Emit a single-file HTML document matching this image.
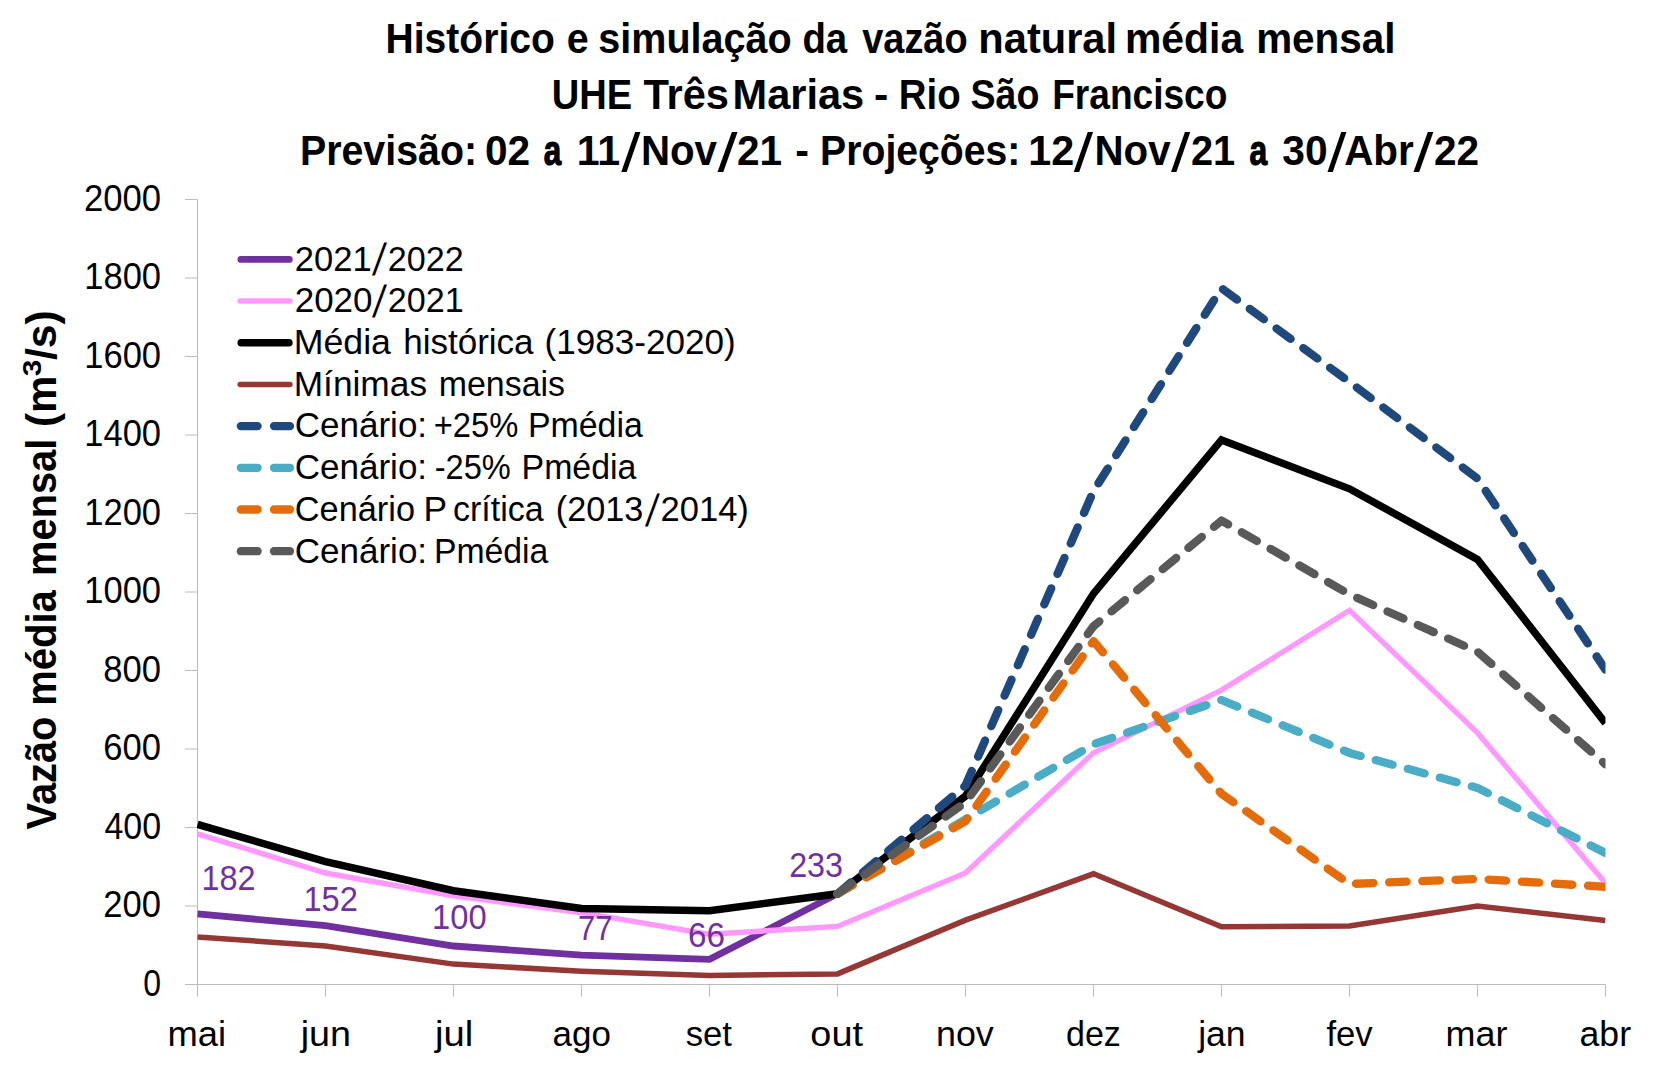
<!DOCTYPE html>
<html lang="pt-BR"><head><meta charset="utf-8"><title>Histórico e simulação da vazão natural média mensal - UHE Três Marias</title>
<style>
html,body{margin:0;padding:0;background:#fff;}
body{width:1658px;height:1080px;overflow:hidden;}
svg{display:block;}
text{font-family:"Liberation Sans",sans-serif;fill:#000;white-space:pre;}
.t{font-weight:bold;font-size:42.7px;}
.ta{stroke:#000;stroke-width:1.2px;stroke-linejoin:round;}
.at{font-weight:bold;font-size:43.0px;}
.sup{font-weight:bold;font-size:25.5px;}
.yl{font-size:37.6px;}
.r{font-size:35.5px;}
.dl{font-size:35.5px;fill:#7030A0;}
.ax{stroke:#bcbcbc;stroke-width:1;fill:none;}
.s{fill:none;stroke-linejoin:miter;stroke-miterlimit:10;}
.d{fill:none;stroke-linecap:round;stroke-linejoin:round;stroke-width:8.3;stroke-dasharray:17.5 15.7;}
</style></head><body>
<svg width="1658" height="1080" viewBox="0 0 1658 1080">
<rect width="1658" height="1080" fill="#fff"/>
<defs><clipPath id="pc"><rect x="196.9" y="150" width="1408.6" height="900"/></clipPath></defs>
<path class="ax" d="M197.5 199.5V984.5H1605.5M185.0 984.5H197.5M185.0 906.0H197.5M185.0 827.5H197.5M185.0 749.0H197.5M185.0 670.5H197.5M185.0 592.0H197.5M185.0 513.5H197.5M185.0 435.0H197.5M185.0 356.5H197.5M185.0 278.0H197.5M185.0 199.5H197.5M197.5 984.5V996.5M325.5 984.5V996.5M453.5 984.5V996.5M581.5 984.5V996.5M709.5 984.5V996.5M837.5 984.5V996.5M965.5 984.5V996.5M1093.5 984.5V996.5M1221.5 984.5V996.5M1349.5 984.5V996.5M1477.5 984.5V996.5M1605.5 984.5V996.5"/>
<g clip-path="url(#pc)">
<path class="s" d="M197.5 913.9L325.5 925.6L453.5 946.0L581.5 955.1L709.5 959.4L837.5 893.8" stroke="#7030A0" stroke-width="6.8"/>
<path class="s" d="M197.5 833.8L325.5 873.0L453.5 895.8L581.5 912.7L709.5 934.3L837.5 926.4L965.5 873.0L1093.5 752.9L1221.5 690.1L1349.5 610.3L1477.5 732.9L1605.5 883.2" stroke="#FF99FF" stroke-width="5.4"/>
<path class="s" d="M197.5 824.4L325.5 861.7L453.5 890.7L581.5 908.4L709.5 910.7L837.5 893.8L965.5 796.1L1093.5 593.6L1221.5 439.9L1349.5 488.8L1477.5 559.4L1605.5 723.1" stroke="#000000" stroke-width="7.5"/>
<path class="s" d="M197.5 937.0L325.5 946.0L453.5 964.1L581.5 971.2L709.5 975.5L837.5 973.9L965.5 920.1L1093.5 873.8L1221.5 926.8L1349.5 926.0L1477.5 906.0L1605.5 920.5" stroke="#953735" stroke-width="5.5"/>
<path class="d" d="M837.5 893.8L965.5 785.5L1093.5 491.1L1221.5 288.2L1349.5 382.0L1477.5 478.6L1605.5 669.7" stroke="#1F497D"/>
<path class="d" d="M837.5 893.8L965.5 819.3L1093.5 744.3L1221.5 700.0L1349.5 752.9L1477.5 787.9L1605.5 853.0" stroke="#4BACC6"/>
<path class="d" d="M837.5 893.8L965.5 821.2L1093.5 641.1L1221.5 793.8L1349.5 884.0L1477.5 878.9L1605.5 886.8" stroke="#E46C0A"/>
<path class="d" d="M837.5 893.8L965.5 802.4L1093.5 626.2L1221.5 520.6L1349.5 594.4L1477.5 651.7L1605.5 764.3" stroke="#595959"/>
</g>
<path d="M240.9 259.4H289.3" stroke="#7030A0" stroke-width="6.8" stroke-linecap="round" fill="none"/>
<path d="M240.2 301.0H290.0" stroke="#FF99FF" stroke-width="5.4" stroke-linecap="round" fill="none"/>
<path d="M241.2 342.7H288.9" stroke="#000000" stroke-width="7.5" stroke-linecap="round" fill="none"/>
<path d="M240.2 384.4H289.9" stroke="#953735" stroke-width="5.5" stroke-linecap="round" fill="none"/>
<path d="M240.8 426.1H257.6M274.0 426.1H290.0" stroke="#1F497D" stroke-width="8.3" stroke-linecap="round" fill="none"/>
<path d="M240.8 467.8H257.6M274.0 467.8H290.0" stroke="#4BACC6" stroke-width="8.3" stroke-linecap="round" fill="none"/>
<path d="M240.8 509.5H257.6M274.0 509.5H290.0" stroke="#E46C0A" stroke-width="8.3" stroke-linecap="round" fill="none"/>
<path d="M240.8 551.2H257.6M274.0 551.2H290.0" stroke="#595959" stroke-width="8.3" stroke-linecap="round" fill="none"/>
<text class="t" x="385.55" y="52.80" textLength="169.29" lengthAdjust="spacingAndGlyphs">Histórico</text>
<text class="t" x="566.65" y="52.80" textLength="21.94" lengthAdjust="spacingAndGlyphs">e</text>
<text class="t" x="598.37" y="52.80" textLength="193.26" lengthAdjust="spacingAndGlyphs">simulação</text>
<text class="t" x="802.39" y="52.80" textLength="44.81" lengthAdjust="spacingAndGlyphs">da</text>
<text class="t" x="862.19" y="52.80" textLength="105.44" lengthAdjust="spacingAndGlyphs">vazão</text>
<text class="t" x="978.32" y="52.80" textLength="138.75" lengthAdjust="spacingAndGlyphs">natural</text>
<text class="t" x="1124.94" y="52.80" textLength="118.25" lengthAdjust="spacingAndGlyphs">média</text>
<text class="t" x="1256.13" y="52.80" textLength="139.33" lengthAdjust="spacingAndGlyphs">mensal</text>
<text class="t" x="551.75" y="109.10" textLength="80.47" lengthAdjust="spacingAndGlyphs">UHE</text>
<text class="t" x="643.39" y="109.10" textLength="85.65" lengthAdjust="spacingAndGlyphs">Três</text>
<text class="t" x="732.54" y="109.10" textLength="131.72" lengthAdjust="spacingAndGlyphs">Marias</text>
<text class="t" x="873.93" y="109.10" textLength="14.34" lengthAdjust="spacingAndGlyphs">-</text>
<text class="t" x="898.87" y="109.10" textLength="61.82" lengthAdjust="spacingAndGlyphs">Rio</text>
<text class="t" x="970.55" y="109.10" textLength="68.90" lengthAdjust="spacingAndGlyphs">São</text>
<text class="t" x="1052.17" y="109.10" textLength="175.27" lengthAdjust="spacingAndGlyphs">Francisco</text>
<text class="t" x="299.91" y="165.20" textLength="177.19" lengthAdjust="spacingAndGlyphs">Previsão:</text>
<text class="t" x="484.89" y="165.20" textLength="45.17" lengthAdjust="spacingAndGlyphs">02</text>
<text class="t ta" x="543.81" y="165.20" textLength="17.46" lengthAdjust="spacingAndGlyphs">a</text>
<text class="t" x="576.68" y="165.20" textLength="43.54" lengthAdjust="spacingAndGlyphs">11</text>
<text class="t" transform="translate(620.97,170.60) skewX(-10.5) scale(1,1.26)" textLength="12.72" lengthAdjust="spacingAndGlyphs">/</text>
<text class="t" x="640.90" y="165.20" textLength="76.10" lengthAdjust="spacingAndGlyphs">Nov</text>
<text class="t" transform="translate(717.29,170.60) skewX(-10.5) scale(1,1.26)" textLength="13.52" lengthAdjust="spacingAndGlyphs">/</text>
<text class="t" x="736.96" y="165.20" textLength="45.07" lengthAdjust="spacingAndGlyphs">21</text>
<text class="t" x="795.15" y="165.20" textLength="13.71" lengthAdjust="spacingAndGlyphs">-</text>
<text class="t" x="820.12" y="165.20" textLength="200.20" lengthAdjust="spacingAndGlyphs">Projeções:</text>
<text class="t" x="1028.37" y="165.20" textLength="45.94" lengthAdjust="spacingAndGlyphs">12</text>
<text class="t" transform="translate(1073.55,170.60) skewX(-10.5) scale(1,1.26)" textLength="12.81" lengthAdjust="spacingAndGlyphs">/</text>
<text class="t" x="1094.51" y="165.20" textLength="76.10" lengthAdjust="spacingAndGlyphs">Nov</text>
<text class="t" transform="translate(1170.65,170.60) skewX(-10.5) scale(1,1.26)" textLength="12.75" lengthAdjust="spacingAndGlyphs">/</text>
<text class="t" x="1190.96" y="165.20" textLength="44.27" lengthAdjust="spacingAndGlyphs">21</text>
<text class="t ta" x="1249.58" y="165.20" textLength="17.70" lengthAdjust="spacingAndGlyphs">a</text>
<text class="t" x="1282.35" y="165.20" textLength="45.32" lengthAdjust="spacingAndGlyphs">30</text>
<text class="t" transform="translate(1327.33,170.60) skewX(-10.5) scale(1,1.26)" textLength="12.41" lengthAdjust="spacingAndGlyphs">/</text>
<text class="t" x="1344.15" y="165.20" textLength="69.66" lengthAdjust="spacingAndGlyphs">Abr</text>
<text class="t" transform="translate(1413.31,170.60) skewX(-10.5) scale(1,1.26)" textLength="13.36" lengthAdjust="spacingAndGlyphs">/</text>
<text class="t" x="1433.95" y="165.20" textLength="45.10" lengthAdjust="spacingAndGlyphs">22</text>
<text class="at" transform="translate(55.80,829.40) rotate(-90)" textLength="112.82" lengthAdjust="spacingAndGlyphs">Vazão</text>
<text class="at" transform="translate(55.80,705.83) rotate(-90)" textLength="115.63" lengthAdjust="spacingAndGlyphs">média</text>
<text class="at" transform="translate(55.80,575.88) rotate(-90)" textLength="137.16" lengthAdjust="spacingAndGlyphs">mensal</text>
<text class="at" transform="translate(55.80,426.94) rotate(-90)" textLength="51.29" lengthAdjust="spacingAndGlyphs">(m</text>
<text class="sup" transform="translate(40.60,376.28) rotate(-90)" textLength="16.66" lengthAdjust="spacingAndGlyphs">3</text>
<text class="at" transform="translate(55.80,360.00) rotate(-90)" textLength="49.85" lengthAdjust="spacingAndGlyphs">/s)</text>
<text class="yl" x="143.26" y="995.60" textLength="17.81" lengthAdjust="spacingAndGlyphs">0</text>
<text class="yl" x="103.36" y="917.10" textLength="57.67" lengthAdjust="spacingAndGlyphs">200</text>
<text class="yl" x="104.40" y="838.60" textLength="56.62" lengthAdjust="spacingAndGlyphs">400</text>
<text class="yl" x="103.36" y="760.10" textLength="57.67" lengthAdjust="spacingAndGlyphs">600</text>
<text class="yl" x="103.36" y="681.60" textLength="57.67" lengthAdjust="spacingAndGlyphs">800</text>
<text class="yl" x="84.31" y="603.10" textLength="76.76" lengthAdjust="spacingAndGlyphs">1000</text>
<text class="yl" x="84.31" y="524.60" textLength="76.76" lengthAdjust="spacingAndGlyphs">1200</text>
<text class="yl" x="84.31" y="446.10" textLength="76.76" lengthAdjust="spacingAndGlyphs">1400</text>
<text class="yl" x="84.31" y="367.60" textLength="76.76" lengthAdjust="spacingAndGlyphs">1600</text>
<text class="yl" x="84.31" y="289.10" textLength="76.76" lengthAdjust="spacingAndGlyphs">1800</text>
<text class="yl" x="83.96" y="210.60" textLength="77.05" lengthAdjust="spacingAndGlyphs">2000</text>
<text class="r" x="167.50" y="1046.00" textLength="58.61" lengthAdjust="spacingAndGlyphs">mai</text>
<text class="r" x="300.72" y="1046.00" textLength="50.33" lengthAdjust="spacingAndGlyphs">jun</text>
<text class="r" x="435.00" y="1046.00" textLength="38.25" lengthAdjust="spacingAndGlyphs">jul</text>
<text class="r" x="552.54" y="1046.00" textLength="58.35" lengthAdjust="spacingAndGlyphs">ago</text>
<text class="r" x="685.76" y="1046.00" textLength="46.24" lengthAdjust="spacingAndGlyphs">set</text>
<text class="r" x="810.38" y="1046.00" textLength="52.62" lengthAdjust="spacingAndGlyphs">out</text>
<text class="r" x="935.93" y="1046.00" textLength="57.87" lengthAdjust="spacingAndGlyphs">nov</text>
<text class="r" x="1065.96" y="1046.00" textLength="54.88" lengthAdjust="spacingAndGlyphs">dez</text>
<text class="r" x="1198.18" y="1046.00" textLength="47.43" lengthAdjust="spacingAndGlyphs">jan</text>
<text class="r" x="1326.39" y="1046.00" textLength="46.23" lengthAdjust="spacingAndGlyphs">fev</text>
<text class="r" x="1445.54" y="1046.00" textLength="61.87" lengthAdjust="spacingAndGlyphs">mar</text>
<text class="r" x="1579.56" y="1046.00" textLength="51.44" lengthAdjust="spacingAndGlyphs">abr</text>
<text class="dl" x="201.47" y="889.80" textLength="54.01" lengthAdjust="spacingAndGlyphs">182</text>
<text class="dl" x="303.45" y="910.90" textLength="54.42" lengthAdjust="spacingAndGlyphs">152</text>
<text class="dl" x="432.08" y="929.30" textLength="54.57" lengthAdjust="spacingAndGlyphs">100</text>
<text class="dl" x="577.91" y="939.80" textLength="34.45" lengthAdjust="spacingAndGlyphs">77</text>
<text class="dl" x="688.05" y="946.70" textLength="36.90" lengthAdjust="spacingAndGlyphs">66</text>
<text class="dl" x="789.13" y="877.20" textLength="53.93" lengthAdjust="spacingAndGlyphs">233</text>
<text class="r" x="294.72" y="270.50" textLength="76.92" lengthAdjust="spacingAndGlyphs">2021</text>
<text class="r" transform="translate(372.00,275.25) skewX(-8.5) scale(1,1.262)" textLength="10.11" lengthAdjust="spacingAndGlyphs">/</text>
<text class="r" x="387.74" y="270.50" textLength="75.93" lengthAdjust="spacingAndGlyphs">2022</text>
<text class="r" x="294.72" y="312.22" textLength="77.72" lengthAdjust="spacingAndGlyphs">2020</text>
<text class="r" transform="translate(372.00,316.97) skewX(-8.5) scale(1,1.262)" textLength="10.11" lengthAdjust="spacingAndGlyphs">/</text>
<text class="r" x="387.74" y="312.22" textLength="75.93" lengthAdjust="spacingAndGlyphs">2021</text>
<text class="r" x="293.73" y="353.94" textLength="97.26" lengthAdjust="spacingAndGlyphs">Média</text>
<text class="r" x="403.18" y="353.94" textLength="130.43" lengthAdjust="spacingAndGlyphs">histórica</text>
<text class="r" x="544.57" y="353.94" textLength="191.08" lengthAdjust="spacingAndGlyphs">(1983-2020)</text>
<text class="r" x="293.73" y="395.66" textLength="133.31" lengthAdjust="spacingAndGlyphs">Mínimas</text>
<text class="r" x="438.76" y="395.66" textLength="126.27" lengthAdjust="spacingAndGlyphs">mensais</text>
<text class="r" x="294.73" y="437.38" textLength="132.38" lengthAdjust="spacingAndGlyphs">Cenário:</text>
<text class="r" x="433.75" y="437.38" textLength="84.67" lengthAdjust="spacingAndGlyphs">+25%</text>
<text class="r" x="527.95" y="437.38" textLength="114.86" lengthAdjust="spacingAndGlyphs">Pmédia</text>
<text class="r" x="294.73" y="479.10" textLength="132.38" lengthAdjust="spacingAndGlyphs">Cenário:</text>
<text class="r" x="434.76" y="479.10" textLength="76.07" lengthAdjust="spacingAndGlyphs">-25%</text>
<text class="r" x="521.55" y="479.10" textLength="114.84" lengthAdjust="spacingAndGlyphs">Pmédia</text>
<text class="r" x="294.76" y="520.82" textLength="120.26" lengthAdjust="spacingAndGlyphs">Cenário</text>
<text class="r" x="423.57" y="520.82" textLength="23.59" lengthAdjust="spacingAndGlyphs">P</text>
<text class="r" x="452.99" y="520.82" textLength="90.81" lengthAdjust="spacingAndGlyphs">crítica</text>
<text class="r" x="555.74" y="520.82" textLength="87.50" lengthAdjust="spacingAndGlyphs">(2013</text>
<text class="r" transform="translate(645.10,525.57) skewX(-8.5) scale(1,1.262)" textLength="10.01" lengthAdjust="spacingAndGlyphs">/</text>
<text class="r" x="660.56" y="520.82" textLength="88.30" lengthAdjust="spacingAndGlyphs">2014)</text>
<text class="r" x="294.73" y="562.54" textLength="132.38" lengthAdjust="spacingAndGlyphs">Cenário:</text>
<text class="r" x="433.94" y="562.54" textLength="114.46" lengthAdjust="spacingAndGlyphs">Pmédia</text>
</svg>
</body></html>
